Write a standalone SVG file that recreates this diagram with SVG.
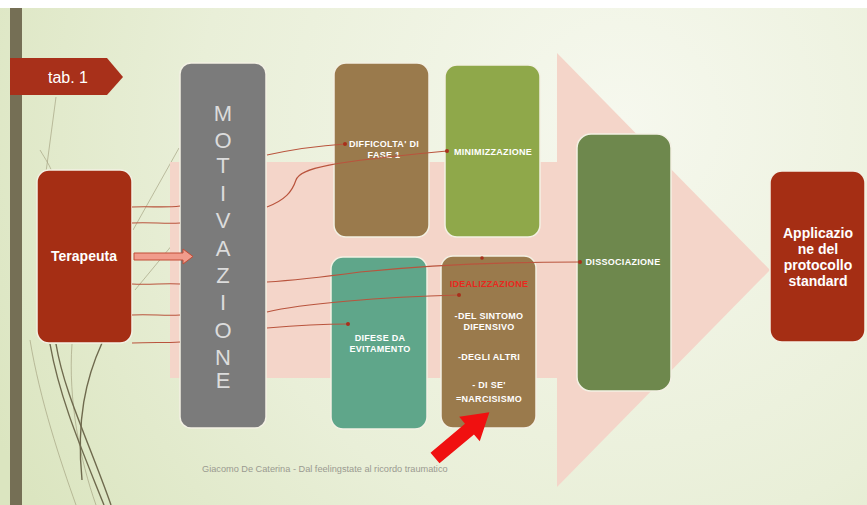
<svg xmlns="http://www.w3.org/2000/svg" width="867" height="505" viewBox="0 0 867 505">
<defs>
<radialGradient id="bg" cx="620" cy="120" r="700" gradientUnits="userSpaceOnUse">
<stop offset="0" stop-color="#f6f8ee"/>
<stop offset="0.6" stop-color="#e9efd8"/>
<stop offset="1" stop-color="#dbe5c0"/>
</radialGradient>
<style>
.box{stroke:#f3f1e4;stroke-width:1.5}
.t{font-family:"Liberation Sans",Arial,sans-serif;fill:#ffffff;text-anchor:middle}
.s{font-size:9px;font-weight:bold;letter-spacing:0.3px}
.conn{fill:none;stroke:#b9543d;stroke-width:1.2}
.dot{fill:#a8301c}
.deco{fill:none;stroke:#6f6a4e;stroke-width:1.4}
.decol{fill:none;stroke:#9c9a78;stroke-width:1;opacity:0.6}
.mot{font-family:"Liberation Sans",Arial,sans-serif;font-size:22px;fill:#dcdcdc;text-anchor:middle}
</style>
</defs>
<rect x="0" y="0" width="867" height="505" fill="#ffffff"/>
<rect x="0" y="8" width="867" height="497" fill="url(#bg)"/>
<rect x="10" y="8" width="12" height="497" fill="#756f55"/>

<g id="decoration">
<path class="decol" d="M56 97 L46 172"/>
<path class="decol" d="M133 230 L179 148"/>
<path class="decol" d="M135 290 L173 244"/>
<path class="decol" d="M30 340 C 40 400, 60 460, 76 505"/>
<path class="decol" d="M72 344 C 68 400, 80 460, 96 505"/>
<path class="deco" d="M50 344 C 60 400, 82 450, 104 505"/>
<path class="deco" d="M56 344 C 64 392, 88 440, 111 505"/>
<path class="deco" d="M102 343 C 86 378, 76 420, 82 480"/>
<path class="decol" d="M40 150 C 46 160, 50 166, 52 172"/>
</g>

<g id="big-arrow">
<rect x="170" y="162" width="387" height="216" fill="#f4d5c9"/>
<polygon points="557,53 770,270 557,487" fill="#f4d5c9"/>
</g>

<g id="tab1">
<polygon points="10,58 107,58 123,77 107,95 10,95" fill="#a8301a"/>
<text class="t" x="68" y="83" font-size="16">tab. 1</text>
</g>

<g id="terapeuta">
<rect class="box" x="37" y="170" width="95" height="173" rx="12" fill="#a52e14"/>
<text class="t" x="84" y="261" font-size="14" font-weight="bold">Terapeuta</text>
</g>

<g id="motivazione">
<rect class="box" x="180" y="63" width="86" height="365" rx="11" fill="#7b7b7b"/>
<text class="mot" x="223" y="121">M</text>
<text class="mot" x="223" y="148">O</text>
<text class="mot" x="223" y="173">T</text>
<text class="mot" x="223" y="201">I</text>
<text class="mot" x="223" y="228">V</text>
<text class="mot" x="223" y="256">A</text>
<text class="mot" x="223" y="283">Z</text>
<text class="mot" x="223" y="310">I</text>
<text class="mot" x="223" y="338">O</text>
<text class="mot" x="223" y="365">N</text>
<text class="mot" x="223" y="388">E</text>
</g>

<g id="difficolta">
<rect class="box" x="334" y="63" width="95" height="174" rx="12" fill="#9a7a4c"/>
<text class="t s" x="384" y="147">DIFFICOLTA' DI</text>
<text class="t s" x="384" y="158">FASE  1</text>
</g>

<g id="minimizzazione">
<rect class="box" x="445" y="65" width="95" height="172" rx="12" fill="#8fa84a"/>
<text class="t s" x="493" y="155">MINIMIZZAZIONE</text>
</g>

<g id="difese">
<rect class="box" x="331" y="257" width="96" height="172" rx="12" fill="#5fa68a"/>
<text class="t s" x="380" y="341">DIFESE DA</text>
<text class="t s" x="380" y="352">EVITAMENTO</text>
</g>

<g id="idealizzazione">
<rect class="box" x="441" y="256" width="95" height="172" rx="12" fill="#9a7a4c"/>
<text class="t s" x="489" y="287" style="fill:#e8281e">IDEALIZZAZIONE</text>
<text class="t s" x="489" y="319">-DEL SINTOMO</text>
<text class="t s" x="489" y="330">DIFENSIVO</text>
<text class="t s" x="489" y="360">-DEGLI ALTRI</text>
<text class="t s" x="489" y="388">- DI SE'</text>
<text class="t s" x="489" y="402">=NARCISISMO</text>
</g>

<g id="dissociazione">
<rect class="box" x="577" y="134" width="94" height="257" rx="14" fill="#6e884d"/>
<text class="t s" x="623" y="265">DISSOCIAZIONE</text>
</g>

<g id="applicazione">
<rect class="box" x="770" y="171" width="95" height="171" rx="12" fill="#a52e14"/>
<text class="t" x="818" y="238" font-size="14" font-weight="bold">Applicazio</text>
<text class="t" x="818" y="254" font-size="14" font-weight="bold">ne del</text>
<text class="t" x="818" y="270" font-size="14" font-weight="bold">protocollo</text>
<text class="t" x="818" y="286" font-size="14" font-weight="bold">standard</text>
</g>

<g id="connectors">
<path class="conn" d="M132 207 C 150 206, 165 208, 180 206"/>
<path class="conn" d="M132 223 C 150 222, 165 224, 180 223"/>
<path class="conn" d="M132 284 C 150 285, 165 283, 180 284"/>
<path class="conn" d="M132 315 C 150 314, 165 316, 180 315"/>
<path class="conn" d="M132 343 C 150 342, 165 343, 180 342"/>
<path class="conn" d="M267 155 C 290 150, 315 146, 345 144"/>
<path class="conn" d="M267 207 C 285 200, 292 192, 296 180 C 300 168, 330 162, 447 151"/>
<path class="conn" d="M267 282 C 300 280, 330 276, 360 272 C 420 266, 500 262, 580 262"/>
<path class="conn" d="M267 312 C 300 304, 380 297, 459 295"/>
<path class="conn" d="M267 328 C 290 326, 320 324, 348 324"/>
<circle class="dot" cx="345" cy="144" r="2"/>
<circle class="dot" cx="447" cy="151" r="2"/>
<circle class="dot" cx="580" cy="262" r="2"/>
<circle class="dot" cx="459" cy="295" r="2"/>
<circle class="dot" cx="348" cy="324" r="2"/>
<circle class="dot" cx="482" cy="258" r="1.8"/>
<path d="M134 253 L183 253 L183 249 L193 256.5 L183 264 L183 260 L134 260 Z" fill="#f19c8c" stroke="#c24d36" stroke-width="1"/>
</g>

<g id="red-arrow">
<polygon transform="translate(435,458) rotate(-40)" points="0,-7 45,-7 45,-16 71,0 45,16 45,7 0,7" fill="#f01010"/>
</g>

<text x="202" y="472" font-family="Liberation Sans,Arial,sans-serif" font-size="9.2" fill="#9a9a90">Giacomo De Caterina - Dal feelingstate al ricordo traumatico</text>
</svg>
